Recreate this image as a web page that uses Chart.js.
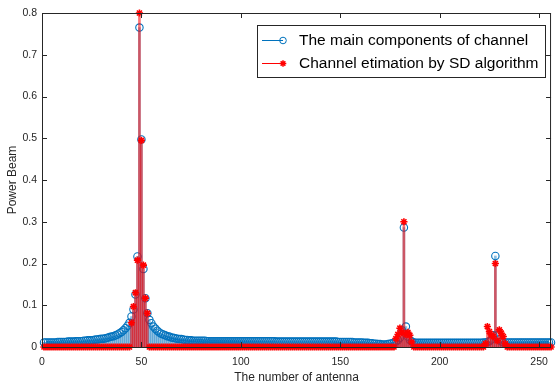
<!DOCTYPE html>
<html>
<head>
<meta charset="utf-8">
<script src="https://cdn.jsdelivr.net/npm/chart.js@4.4.1/dist/chart.umd.min.js"></script>
<style>
  html, body { margin: 0; padding: 0; background: #fff; }
  canvas { display: block; }
</style>
</head>
<body>
<canvas id="beamChart" width="557" height="385"></canvas>
<script>
// antenna index 1..256
const antennaIdx = Array.from({ length: 256 }, (_, i) => i + 1);

// The main components of channel (blue stems)
const mainComponents = [
  0.011,0.011,0.011,0.011,0.011,0.011,0.011,0.012,0.012,0.012,0.012,0.012,0.013,0.013,0.013,0.013,
  0.014,0.014,0.014,0.014,0.015,0.015,0.016,0.016,0.016,0.017,0.018,0.018,0.019,0.020,0.020,0.021,
  0.022,0.024,0.025,0.026,0.028,0.030,0.033,0.036,0.040,0.045,0.051,0.058,0.073,0.090,0.126,0.217,
  0.765,0.497,0.187,0.117,0.081,0.065,0.057,0.049,0.044,0.039,0.035,0.032,0.030,0.028,0.026,0.025,
  0.023,0.022,0.021,0.020,0.019,0.019,0.018,0.017,0.017,0.016,0.016,0.015,0.015,0.015,0.015,0.015,
  0.015,0.015,0.014,0.014,0.014,0.014,0.014,0.014,0.014,0.014,0.014,0.014,0.014,0.014,0.014,0.014,
  0.014,0.014,0.014,0.014,0.014,0.014,0.014,0.014,0.014,0.014,0.014,0.014,0.014,0.014,0.014,0.014,
  0.014,0.014,0.014,0.014,0.014,0.013,0.013,0.013,0.013,0.013,0.013,0.013,0.013,0.013,0.013,0.013,
  0.013,0.013,0.013,0.013,0.013,0.013,0.013,0.013,0.013,0.013,0.013,0.013,0.013,0.013,0.013,0.013,
  0.013,0.013,0.013,0.013,0.012,0.012,0.012,0.012,0.012,0.012,0.012,0.012,0.011,0.011,0.011,0.011,
  0.011,0.010,0.010,0.010,0.009,0.009,0.008,0.008,0.007,0.007,0.006,0.006,0.006,0.007,0.008,0.009,
  0.011,0.013,0.016,0.022,0.040,0.286,0.049,0.025,0.017,0.013,0.011,0.010,0.010,0.010,0.010,0.010,
  0.010,0.010,0.010,0.010,0.010,0.010,0.010,0.010,0.010,0.010,0.010,0.010,0.010,0.010,0.010,0.010,
  0.010,0.010,0.010,0.010,0.010,0.010,0.010,0.010,0.010,0.010,0.010,0.010,0.010,0.011,0.011,0.012,
  0.014,0.018,0.028,0.218,0.028,0.018,0.013,0.011,0.011,0.011,0.011,0.011,0.011,0.011,0.011,0.011,
  0.011,0.011,0.011,0.011,0.011,0.011,0.011,0.011,0.011,0.011,0.011,0.011,0.011,0.011,0.011,0.011
];

// Channel estimation by SD algorithm (red stems)
const sdEstimate = [
  0,0,0,0,0,0,0,0,0,0,0,0,0,0,0,0,
  0,0,0,0,0,0,0,0,0,0,0,0,0,0,0,0,
  0,0,0,0,0,0,0,0,0,0,0,0,0.058,0.097,0.130,0.208,
  0.800,0.495,0.196,0.117,0.081,0,0,0,0,0,0,0,0,0,0,0,
  0,0,0,0,0,0,0,0,0,0,0,0,0,0,0,0,
  0,0,0,0,0,0,0,0,0,0,0,0,0,0,0,0,
  0,0,0,0,0,0,0,0,0,0,0,0,0,0,0,0,
  0,0,0,0,0,0,0,0,0,0,0,0,0,0,0,0,
  0,0,0,0,0,0,0,0,0,0,0,0,0,0,0,0,
  0,0,0,0,0,0,0,0,0,0,0,0,0,0,0,0,
  0,0,0,0,0,0,0,0,0,0,0,0,0,0,0,0,
  0,0.020,0.030,0.045,0.035,0.300,0.030,0.035,0.028,0.012,0,0,0,0,0,0,
  0,0,0,0,0,0,0,0,0,0,0,0,0,0,0,0,
  0,0,0,0,0,0,0,0,0,0,0,0,0,0,0.008,0.049,
  0.037,0.029,0.025,0.200,0.015,0.041,0.033,0.025,0.008,0,0,0,0,0,0,0,
  0,0,0,0,0,0,0,0,0,0,0,0,0,0,0,0
];

const xTickValues = [0, 50, 100, 150, 200, 250];
const yTickValues = [0, 0.1, 0.2, 0.3, 0.4, 0.5, 0.6, 0.7, 0.8];
const yTickLabels = ['0', '0.1', '0.2', '0.3', '0.4', '0.5', '0.6', '0.7', '0.8'];
const seriesNames = ['The main components of channel', 'Channel etimation by SD algorithm'];

const blue = '#0072BD';
const red = '#FF0000';
const axisColor = '#262626';

Chart.defaults.font.family = "'Liberation Sans', Arial, sans-serif";
Chart.defaults.color = axisColor;

const toPoints = (vals) => vals.map((v, i) => ({ x: antennaIdx[i], y: v }));

// box around the axes + inward ticks (MATLAB style)
const axesBox = {
  id: 'axesBox',
  afterDatasetsDraw(chart) {
    const { ctx, chartArea: a, scales: { x, y } } = chart;
    ctx.save();
    ctx.strokeStyle = axisColor;
    ctx.lineWidth = 1;
    ctx.beginPath();
    xTickValues.forEach(v => {
      const px = Math.round(x.getPixelForValue(v)) + 0.5;
      ctx.moveTo(px, a.bottom); ctx.lineTo(px, a.bottom - 5);
      ctx.moveTo(px, a.top); ctx.lineTo(px, a.top + 5);
    });
    yTickValues.forEach(v => {
      const py = Math.round(y.getPixelForValue(v)) + 0.5;
      ctx.moveTo(a.left, py); ctx.lineTo(a.left + 5, py);
      ctx.moveTo(a.right, py); ctx.lineTo(a.right - 5, py);
    });
    ctx.stroke();
    ctx.strokeRect(a.left + 0.5, a.top + 0.5, a.right - a.left - 1, a.bottom - a.top);
    ctx.restore();
  }
};

// legend box in the top right
const stemLegend = {
  id: 'stemLegend',
  afterDraw(chart) {
    const ctx = chart.ctx;
    ctx.save();
    ctx.fillStyle = '#fff';
    ctx.fillRect(257.5, 25.5, 288, 52);
    ctx.strokeStyle = axisColor;
    ctx.lineWidth = 1;
    ctx.strokeRect(257.5, 25.5, 288, 52);

    const rows = [
      { y: 40, color: blue, style: 'circle' },
      { y: 63, color: red, style: 'star' }
    ];
    rows.forEach((r, i) => {
      ctx.strokeStyle = r.color;
      ctx.lineWidth = 1;
      ctx.beginPath();
      ctx.moveTo(262, r.y + 0.5);
      ctx.lineTo(283, r.y + 0.5);
      ctx.stroke();
      ctx.fillStyle = r.style === 'star' ? r.color : 'rgba(0,0,0,0)';
      ctx.lineWidth = r.style === 'star' ? 1.5 : 1;
      Chart.helpers.drawPoint(ctx, { pointStyle: r.style, radius: 3.3, borderWidth: ctx.lineWidth }, 283, r.y + 0.5);
      ctx.fillStyle = '#000';
      ctx.font = "15.5px 'Liberation Sans', Arial, sans-serif";
      ctx.textBaseline = 'middle';
      ctx.textAlign = 'left';
      ctx.fillText(seriesNames[i], 299, r.y + 0.5);
    });
    ctx.restore();
  }
};

new Chart(document.getElementById('beamChart'), {
  type: 'bar',
  data: {
    datasets: [
      {
        type: 'line',
        label: seriesNames[1],
        data: toPoints(sdEstimate),
        showLine: false,
        pointStyle: 'star',
        pointRadius: 3.6,
        pointBorderWidth: 1.6,
        pointBorderColor: red,
        pointBackgroundColor: red,
        clip: false,
        order: 0
      },
      {
        type: 'bar',
        label: seriesNames[1] + ' stem',
        data: toPoints(sdEstimate),
        backgroundColor: 'rgba(255,0,0,0.55)',
        barThickness: 2,
        grouped: false,
        order: 1
      },
      {
        type: 'line',
        label: seriesNames[0],
        data: toPoints(mainComponents),
        showLine: false,
        pointStyle: 'circle',
        pointRadius: 3.7,
        pointBorderWidth: 1.1,
        pointBorderColor: blue,
        pointBackgroundColor: 'rgba(0,0,0,0)',
        clip: false,
        order: 2
      },
      {
        type: 'bar',
        label: seriesNames[0] + ' stem',
        data: toPoints(mainComponents),
        backgroundColor: 'rgba(0,114,189,0.45)',
        barThickness: 2,
        grouped: false,
        order: 3
      }
    ]
  },
  options: {
    responsive: false,
    animation: false,
    events: [],
    layout: { padding: { top: 13, right: 2, left: 0, bottom: 0 } },
    plugins: {
      legend: { display: false },
      tooltip: { enabled: false }
    },
    scales: {
      x: {
        type: 'linear',
        min: 0,
        max: 256,
        offset: false,
        grid: { display: false, drawTicks: false },
        border: { display: false },
        afterBuildTicks: (s) => { s.ticks = xTickValues.map(v => ({ value: v })); },
        afterFit: (s) => { s.height = 38; },
        ticks: {
          font: { size: 10.5 },
          color: axisColor,
          maxRotation: 0,
          padding: 9,
          callback: (v) => String(v)
        },
        title: {
          display: true,
          text: 'The number of antenna',
          font: { size: 12 },
          color: axisColor,
          padding: { top: 0, bottom: 0 }
        }
      },
      y: {
        min: 0,
        max: 0.8,
        grid: { display: false, drawTicks: false },
        border: { display: false },
        afterBuildTicks: (s) => { s.ticks = yTickValues.map(v => ({ value: v })); },
        afterFit: (s) => { s.width = 42; },
        ticks: {
          font: { size: 10.5 },
          color: axisColor,
          padding: 5,
          callback: (v) => yTickLabels[yTickValues.findIndex(t => Math.abs(t - v) < 1e-9)]
        },
        title: {
          display: true,
          text: 'Power Beam',
          font: { size: 12 },
          color: axisColor,
          padding: { top: 5, bottom: 0 }
        }
      }
    }
  },
  plugins: [axesBox, stemLegend]
});
</script>
</body>
</html>
